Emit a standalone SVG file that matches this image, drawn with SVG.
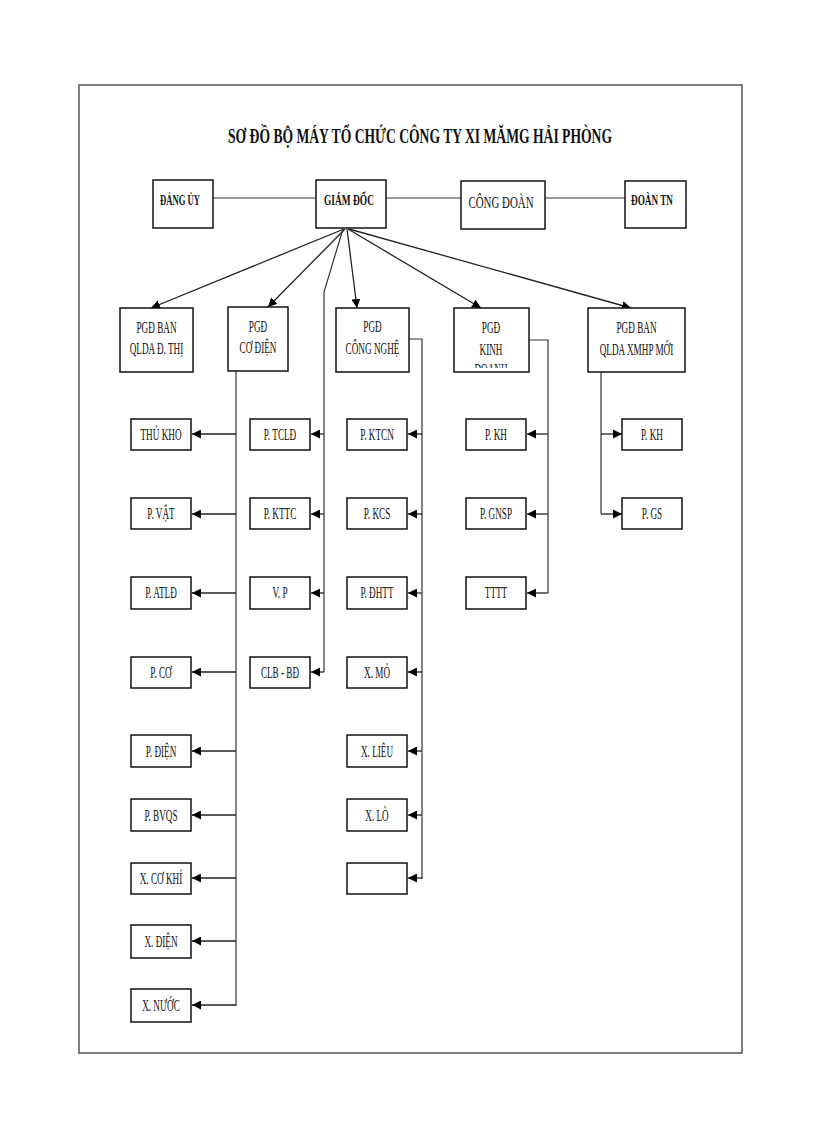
<svg xmlns="http://www.w3.org/2000/svg" width="816" height="1123" viewBox="0 0 816 1123">
<style>
.frame{fill:none;stroke:#555;stroke-width:1.5}
.box{fill:#fff;stroke:#111;stroke-width:1.5}
.ln{fill:none;stroke:#333;stroke-width:1.2}
.ar{fill:none;stroke:#222;stroke-width:1.3;marker-end:url(#ah)}
.t{font-family:"Liberation Serif","Times New Roman",serif;font-size:17px;fill:#111;text-anchor:middle}
.tb{font-family:"Liberation Serif","Times New Roman",serif;font-size:15px;font-weight:bold;fill:#111;text-anchor:middle}
.title{font-family:"Liberation Serif","Times New Roman",serif;font-size:20px;font-weight:bold;fill:#111;text-anchor:middle}
</style>
<defs>
<marker id="ah" markerUnits="userSpaceOnUse" markerWidth="9" markerHeight="9" refX="9" refY="4.5" orient="auto">
<path d="M0,0 L9,4.5 L0,9 z" fill="#000"/>
</marker>
<clipPath id="clipKD"><rect x="454" y="300" width="76" height="68"/></clipPath>
</defs>
<rect width="816" height="1123" fill="#fff"/>
<rect class="frame" x="79" y="85" width="663" height="968"/>
<text class="title" x="420" y="143" textLength="384" lengthAdjust="spacingAndGlyphs">SƠ ĐỒ BỘ MÁY TỔ CHỨC CÔNG TY XI MĂMG HẢI PHÒNG</text>

<g id="connectors">
<line class="ln" x1="213" y1="198" x2="316" y2="198"/>
<line class="ln" x1="386" y1="198" x2="461" y2="198"/>
<line class="ln" x1="545" y1="198" x2="625" y2="198"/>
<line class="ar" x1="344" y1="229" x2="151" y2="308"/>
<line class="ar" x1="345" y1="229" x2="268" y2="307"/>
<line class="ar" x1="347" y1="229" x2="357" y2="308"/>
<line class="ar" x1="348" y1="229" x2="481" y2="308"/>
<line class="ar" x1="349" y1="229" x2="631" y2="308"/>
<polyline class="ln" points="343,229 324,292 324,672"/>
<line class="ln" x1="236" y1="371" x2="236" y2="1006"/>
<polyline class="ln" points="409,339 422,339 422,879"/>
<polyline class="ln" points="527,340 548,340 548,593"/>
<line class="ln" x1="601" y1="372" x2="601" y2="514"/>
<line class="ar" x1="236" y1="434" x2="192" y2="434"/>
<line class="ar" x1="236" y1="514" x2="192" y2="514"/>
<line class="ar" x1="236" y1="593" x2="192" y2="593"/>
<line class="ar" x1="236" y1="672" x2="192" y2="672"/>
<line class="ar" x1="236" y1="751" x2="192" y2="751"/>
<line class="ar" x1="236" y1="815" x2="192" y2="815"/>
<line class="ar" x1="236" y1="878" x2="192" y2="878"/>
<line class="ar" x1="236" y1="941" x2="192" y2="941"/>
<line class="ar" x1="236" y1="1005" x2="192" y2="1005"/>
<line class="ar" x1="324" y1="434" x2="311" y2="434"/>
<line class="ar" x1="324" y1="514" x2="311" y2="514"/>
<line class="ar" x1="324" y1="593" x2="311" y2="593"/>
<line class="ar" x1="324" y1="672" x2="311" y2="672"/>
<line class="ar" x1="422" y1="434" x2="408" y2="434"/>
<line class="ar" x1="422" y1="514" x2="408" y2="514"/>
<line class="ar" x1="422" y1="593" x2="408" y2="593"/>
<line class="ar" x1="422" y1="672" x2="408" y2="672"/>
<line class="ar" x1="422" y1="751" x2="408" y2="751"/>
<line class="ar" x1="422" y1="815" x2="408" y2="815"/>
<line class="ar" x1="422" y1="878" x2="408" y2="878"/>
<line class="ar" x1="548" y1="434" x2="527" y2="434"/>
<line class="ar" x1="548" y1="514" x2="527" y2="514"/>
<line class="ar" x1="548" y1="593" x2="527" y2="593"/>
<line class="ar" x1="601" y1="434" x2="622" y2="434"/>
<line class="ar" x1="601" y1="514" x2="622" y2="514"/>
</g>

<g id="dang-uy"><rect class="box" x="153" y="180" width="60" height="48"/><text class="tb" x="180" y="205" textLength="40" lengthAdjust="spacingAndGlyphs">ĐẢNG ỦY</text></g>
<g id="giam-doc"><rect class="box" x="316" y="180" width="70" height="48"/><text class="tb" x="349" y="205" textLength="50" lengthAdjust="spacingAndGlyphs">GIÁM  ĐỐC</text></g>
<g id="cong-doan"><rect class="box" x="461" y="181" width="84" height="48"/><text class="t" x="501" y="208" font-size="19" textLength="65" lengthAdjust="spacingAndGlyphs">CÔNG ĐOÀN</text></g>
<g id="doan-tn"><rect class="box" x="625" y="181" width="61" height="47"/><text class="tb" x="652" y="205" textLength="42" lengthAdjust="spacingAndGlyphs">ĐOÀN TN</text></g>

<g id="pgd-qlda-dthi"><rect class="box" x="120" y="308" width="73" height="64"/>
<text class="t" transform="translate(156.5 333) scale(0.54 1)">PGĐ BAN</text>
<text class="t" transform="translate(156.5 354) scale(0.54 1)">QLDA Đ. THỊ</text></g>
<g id="pgd-co-dien"><rect class="box" x="228" y="307" width="60" height="64"/>
<text class="t" transform="translate(258 332) scale(0.54 1)">PGĐ</text>
<text class="t" transform="translate(258 353) scale(0.54 1)">CƠ ĐIỆN</text></g>
<g id="pgd-cong-nghe"><rect class="box" x="336" y="308" width="73" height="64"/>
<text class="t" transform="translate(372.5 332) scale(0.54 1)">PGĐ</text>
<text class="t" transform="translate(372.5 354) scale(0.54 1)">CÔNG NGHỆ</text></g>
<g id="pgd-kinh-doanh"><rect class="box" x="454" y="308" width="75" height="64"/>
<text class="t" transform="translate(491 333) scale(0.54 1)">PGĐ</text>
<text class="t" transform="translate(491 355) scale(0.54 1)">KINH</text>
<g clip-path="url(#clipKD)"><text class="t" transform="translate(491 375) scale(0.54 1)">DOANH</text></g></g>
<g id="pgd-qlda-xmhp"><rect class="box" x="588" y="308" width="97" height="64"/>
<text class="t" transform="translate(636.5 333) scale(0.54 1)">PGĐ BAN</text>
<text class="t" transform="translate(636.5 355) scale(0.54 1)">QLDA XMHP MỚI</text></g>

<g id="thu-kho"><rect class="box" x="131" y="419" width="60" height="31"/><text class="t" transform="translate(161 440) scale(0.54 1)">THỦ KHO</text></g>
<g id="p-vat"><rect class="box" x="131" y="498" width="60" height="31"/><text class="t" transform="translate(161 519) scale(0.54 1)">P. VẬT</text></g>
<g id="p-atld"><rect class="box" x="131" y="577" width="60" height="32"/><text class="t" transform="translate(161 598) scale(0.54 1)">P. ATLĐ</text></g>
<g id="p-co"><rect class="box" x="131" y="657" width="60" height="31"/><text class="t" transform="translate(161 678) scale(0.54 1)">P. CƠ</text></g>
<g id="p-dien"><rect class="box" x="131" y="735" width="60" height="32"/><text class="t" transform="translate(161 757) scale(0.54 1)">P. ĐIỆN</text></g>
<g id="p-bvqs"><rect class="box" x="131" y="799" width="60" height="32"/><text class="t" transform="translate(161 821) scale(0.54 1)">P. BVQS</text></g>
<g id="x-co-khi"><rect class="box" x="131" y="863" width="60" height="31"/><text class="t" transform="translate(161 884) scale(0.54 1)">X. CƠ KHÍ</text></g>
<g id="x-dien"><rect class="box" x="131" y="925" width="60" height="33"/><text class="t" transform="translate(161 947) scale(0.54 1)">X. ĐIỆN</text></g>
<g id="x-nuoc"><rect class="box" x="131" y="989" width="60" height="33"/><text class="t" transform="translate(161 1011) scale(0.54 1)">X. NƯỚC</text></g>

<g id="p-tcld"><rect class="box" x="250" y="419" width="60" height="31"/><text class="t" transform="translate(280 440) scale(0.54 1)">P. TCLĐ</text></g>
<g id="p-kttc"><rect class="box" x="250" y="498" width="60" height="31"/><text class="t" transform="translate(280 519) scale(0.54 1)">P. KTTC</text></g>
<g id="v-p"><rect class="box" x="250" y="577" width="60" height="32"/><text class="t" transform="translate(280 598) scale(0.54 1)">V. P</text></g>
<g id="clb-bd"><rect class="box" x="250" y="657" width="60" height="31"/><text class="t" transform="translate(280 678) scale(0.54 1)">CLB - BĐ</text></g>

<g id="p-ktcn"><rect class="box" x="347" y="419" width="60" height="31"/><text class="t" transform="translate(377 440) scale(0.54 1)">P. KTCN</text></g>
<g id="p-kcs"><rect class="box" x="347" y="498" width="60" height="31"/><text class="t" transform="translate(377 519) scale(0.54 1)">P. KCS</text></g>
<g id="p-dhtt"><rect class="box" x="347" y="577" width="60" height="32"/><text class="t" transform="translate(377 598) scale(0.54 1)">P. ĐHTT</text></g>
<g id="x-mo"><rect class="box" x="347" y="657" width="60" height="31"/><text class="t" transform="translate(377 678) scale(0.54 1)">X. MỎ</text></g>
<g id="x-lieu"><rect class="box" x="347" y="735" width="60" height="32"/><text class="t" transform="translate(377 757) scale(0.54 1)">X. LIÊU</text></g>
<g id="x-lo"><rect class="box" x="347" y="799" width="60" height="32"/><text class="t" transform="translate(377 821) scale(0.54 1)">X. LÒ</text></g>
<g id="empty"><rect class="box" x="347" y="863" width="60" height="31"/></g>

<g id="p-kh-1"><rect class="box" x="466" y="419" width="60" height="31"/><text class="t" transform="translate(496 440) scale(0.54 1)">P. KH</text></g>
<g id="p-gnsp"><rect class="box" x="466" y="498" width="60" height="31"/><text class="t" transform="translate(496 519) scale(0.54 1)">P. GNSP</text></g>
<g id="tttt"><rect class="box" x="466" y="577" width="60" height="32"/><text class="t" transform="translate(496 598) scale(0.54 1)">TTTT</text></g>

<g id="p-kh-2"><rect class="box" x="622" y="419" width="60" height="31"/><text class="t" transform="translate(652 440) scale(0.54 1)">P. KH</text></g>
<g id="p-gs"><rect class="box" x="622" y="498" width="60" height="31"/><text class="t" transform="translate(652 519) scale(0.54 1)">P. GS</text></g>
</svg>
